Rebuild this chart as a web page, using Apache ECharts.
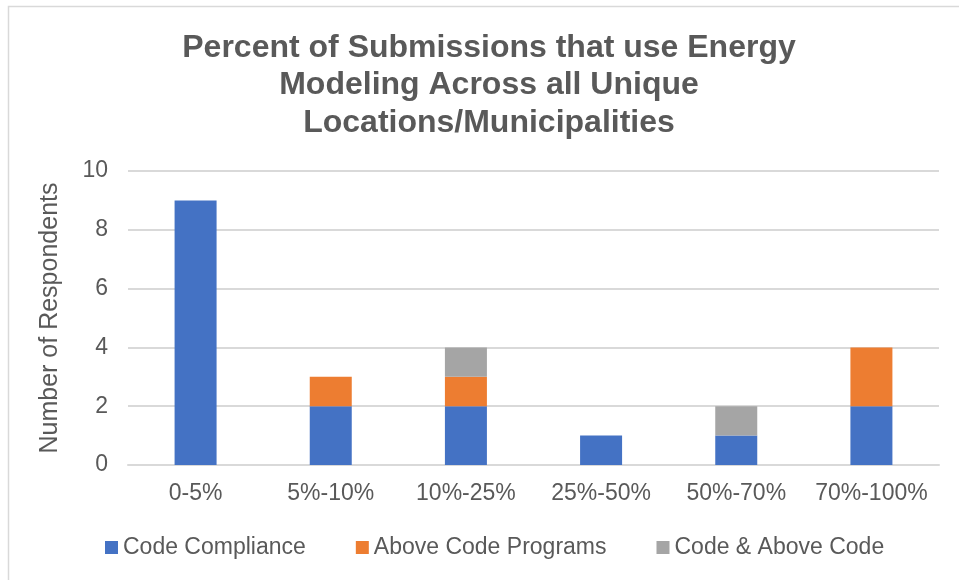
<!DOCTYPE html>
<html>
<head>
<meta charset="utf-8">
<script src="https://cdn.jsdelivr.net/npm/echarts@6/dist/echarts.min.js"></script>
<style>
  html, body { margin: 0; padding: 0; background: #fff; }
  #chart { width: 959px; height: 580px; }
</style>
</head>
<body>
<div id="chart"></div>
<script>
// categories and values
const categories = ['0-5%', '5%-10%', '10%-25%', '25%-50%', '50%-70%', '70%-100%'];
const codeCompliance = [9, 2, 2, 1, 1, 2];
const aboveCodePrograms = [0, 1, 1, 0, 0, 2];
const codeAndAbove = [0, 0, 1, 0, 1, 0];
const yTicks = [0, 2, 4, 6, 8, 10];

const font = 'Liberation Sans, Arial, sans-serif';
const txt = '#595959';

const chart = echarts.init(document.getElementById('chart'));

function stackSeries(name, data, color){
  return {
    name: name,
    type: 'bar',
    stack: 'total',
    barWidth: 42,
    data: data.map(v => v === 0 ? null : v),
    itemStyle: { color: color },
    animation: false
  };
}

chart.setOption({
  animation: false,
  graphic: [{
    type: 'rect',
    shape: { x: 8.5, y: 6.5, width: 1000, height: 600 },
    style: { fill: 'none', stroke: '#d9d9d9', lineWidth: 1.5 },
    silent: true
  }, {
    type: 'text',
    x: 489,
    y: 29,
    style: {
      text: 'Percent of Submissions that use Energy\nModeling Across all Unique\nLocations/Municipalities',
      align: 'center',
      fontFamily: font,
      fontSize: 32,
      fontWeight: 'bold',
      fill: txt,
      lineHeight: 37.5
    },
    silent: true
  }],
  legend: {
    top: 531,
    left: 100,
    itemWidth: 13,
    itemHeight: 13,
    itemGap: 50,
    icon: 'rect',
    textStyle: { fontFamily: font, fontSize: 23, color: txt },
    data: ['Code Compliance', 'Above Code Programs', 'Code & Above Code']
  },
  grid: { left: 128, right: 20, top: 171, bottom: 115 },
  xAxis: {
    type: 'category',
    data: categories,
    axisLine: { lineStyle: { color: '#d9d9d9', width: 2 } },
    axisTick: { show: false },
    axisLabel: { fontFamily: font, fontSize: 23, color: txt, margin: 17, interval: 0 }
  },
  yAxis: {
    type: 'value',
    min: yTicks[0],
    max: yTicks[yTicks.length - 1],
    interval: 2,
    name: 'Number of Respondents',
    nameLocation: 'middle',
    nameGap: 65,
    nameTextStyle: { fontFamily: font, fontSize: 25, color: txt },
    axisLine: { show: false },
    axisTick: { show: false },
    axisLabel: { fontFamily: font, fontSize: 23, color: txt, margin: 20 },
    splitLine: { lineStyle: { color: '#d9d9d9', width: 2 } }
  },
  series: [
    stackSeries('Code Compliance', codeCompliance, '#4472C4'),
    stackSeries('Above Code Programs', aboveCodePrograms, '#ED7D31'),
    stackSeries('Code & Above Code', codeAndAbove, '#A5A5A5')
  ]
});
</script>
</body>
</html>
